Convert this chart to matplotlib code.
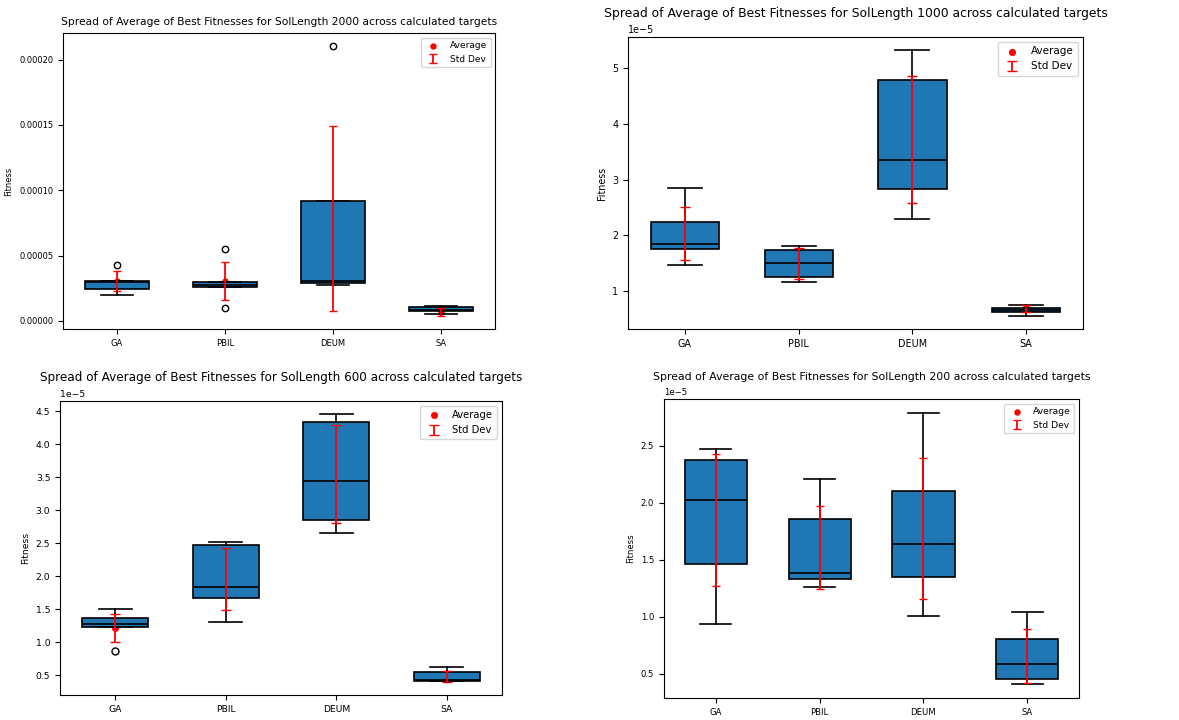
import matplotlib
matplotlib.use('Agg')
import matplotlib.pyplot as plt

methods = ['GA', 'PBIL', 'DEUM', 'SA']

# SolLength 2000
l2000_q1 = [2.45e-5, 2.61e-5, 2.89e-5, 0.74e-5]
l2000_med = [2.98e-5, 2.78e-5, 3.09e-5, 0.82e-5]
l2000_q3 = [3.09e-5, 2.94e-5, 9.17e-5, 1.10e-5]
l2000_lo = [1.97e-5, 2.61e-5, 2.76e-5, 0.54e-5]
l2000_hi = [3.09e-5, 2.94e-5, 9.17e-5, 1.17e-5]
l2000_fliers = [[4.29e-5], [5.49e-5, 0.97e-5], [2.10e-4], []]
l2000_mean = [3.05e-5, 3.04e-5, 7.80e-5, 0.68e-5]
l2000_std = [0.79e-5, 1.45e-5, 7.08e-5, 0.27e-5]

# SolLength 1000
l1000_q1 = [1.761e-5, 1.262e-5, 2.831e-5, 0.631e-5]
l1000_med = [1.856e-5, 1.511e-5, 3.354e-5, 0.667e-5]
l1000_q3 = [2.236e-5, 1.749e-5, 4.774e-5, 0.703e-5]
l1000_lo = [1.48e-5, 1.166e-5, 2.30e-5, 0.566e-5]
l1000_hi = [2.85e-5, 1.82e-5, 5.31e-5, 0.75e-5]
l1000_fliers = [[], [], [], []]
l1000_mean = [2.03e-5, 1.50e-5, 3.71e-5, 0.70e-5]
l1000_std = [0.476e-5, 0.277e-5, 1.138e-5, 0.06e-5]

# SolLength 600
l600_q1 = [1.237e-5, 1.667e-5, 2.859e-5, 0.409e-5]
l600_med = [1.283e-5, 1.838e-5, 3.449e-5, 0.43e-5]
l600_q3 = [1.374e-5, 2.475e-5, 4.343e-5, 0.55e-5]
l600_lo = [1.237e-5, 1.308e-5, 2.657e-5, 0.409e-5]
l600_hi = [1.505e-5, 2.515e-5, 4.455e-5, 0.626e-5]
l600_fliers = [[0.874e-5], [], [], []]
l600_mean = [1.22e-5, 1.957e-5, 3.55e-5, 0.487e-5]
l600_std = [0.21e-5, 0.467e-5, 0.742e-5, 0.083e-5]

# SolLength 200
l200_q1 = [1.459e-5, 1.330e-5, 1.347e-5, 0.453e-5]
l200_med = [2.028e-5, 1.383e-5, 1.635e-5, 0.585e-5]
l200_q3 = [2.374e-5, 1.858e-5, 2.107e-5, 0.802e-5]
l200_lo = [0.937e-5, 1.265e-5, 1.004e-5, 0.406e-5]
l200_hi = [2.474e-5, 2.213e-5, 2.793e-5, 1.045e-5]
l200_fliers = [[], [], [], []]
l200_mean = [1.852e-5, 1.61e-5, 1.776e-5, 0.656e-5]
l200_std = [0.581e-5, 0.367e-5, 0.622e-5, 0.238e-5]

panels = [
    (2000, l2000_q1, l2000_med, l2000_q3, l2000_lo, l2000_hi, l2000_fliers, l2000_mean, l2000_std),
    (1000, l1000_q1, l1000_med, l1000_q3, l1000_lo, l1000_hi, l1000_fliers, l1000_mean, l1000_std),
    (600, l600_q1, l600_med, l600_q3, l600_lo, l600_hi, l600_fliers, l600_mean, l600_std),
    (200, l200_q1, l200_med, l200_q3, l200_lo, l200_hi, l200_fliers, l200_mean, l200_std),
]

# axes boxes in pixels (left, top, right, bottom) and a font scale per panel
W, H = 1179, 720
boxes = [(63, 33, 495, 329), (628, 37, 1083, 329), (60, 401, 502, 695), (664, 399, 1079, 698)]
scales = [0.6, 0.69, 0.67, 0.61]
title_scales = [0.64, 0.745, 0.72, 0.655]

fig = plt.figure(figsize=(W / 100, H / 100), dpi=100)

for (sol, q1, med, q3, lo, hi, fl, mean, std), (l, t, r, b), s, ts in zip(panels, boxes, scales, title_scales):
    ax = fig.add_axes([l / W, 1 - b / H, (r - l) / W, (b - t) / H])
    stats = [dict(label=m, q1=a, med=c, q3=d, whislo=e, whishi=f, fliers=g)
             for m, a, c, d, e, f, g in zip(methods, q1, med, q3, lo, hi, fl)]
    pos = list(range(1, len(methods) + 1))
    ax.bxp(stats, positions=pos, widths=0.6, patch_artist=True,
           boxprops=dict(facecolor='#1f77b4', edgecolor='black', linewidth=1.2),
           medianprops=dict(color='black', linewidth=1.2),
           whiskerprops=dict(color='black', linewidth=1.2),
           capprops=dict(color='black', linewidth=1.2),
           flierprops=dict(marker='o', markerfacecolor='none', markeredgecolor='black',
                           markersize=6 * s + 1))
    # mean dots sit under the boxes, error bars on top
    ax.scatter(pos, mean, color='red', s=36 * s * s, label='Average', zorder=1.5)
    ax.errorbar(pos, mean, yerr=std, fmt='none', ecolor='red', elinewidth=1.3,
                capsize=5 * s, label='Std Dev', zorder=3)
    ax.set_title(f'Spread of Average of Best Fitnesses for SolLength {sol} across calculated targets',
                 fontsize=12 * ts)
    ax.set_ylabel('Fitness', fontsize=10 * s)
    ax.tick_params(labelsize=10 * s)
    ax.yaxis.get_offset_text().set_fontsize(10 * s)
    ax.legend(loc='upper right', fontsize=10.8 * s)

fig.savefig('out.png', dpi=100)
